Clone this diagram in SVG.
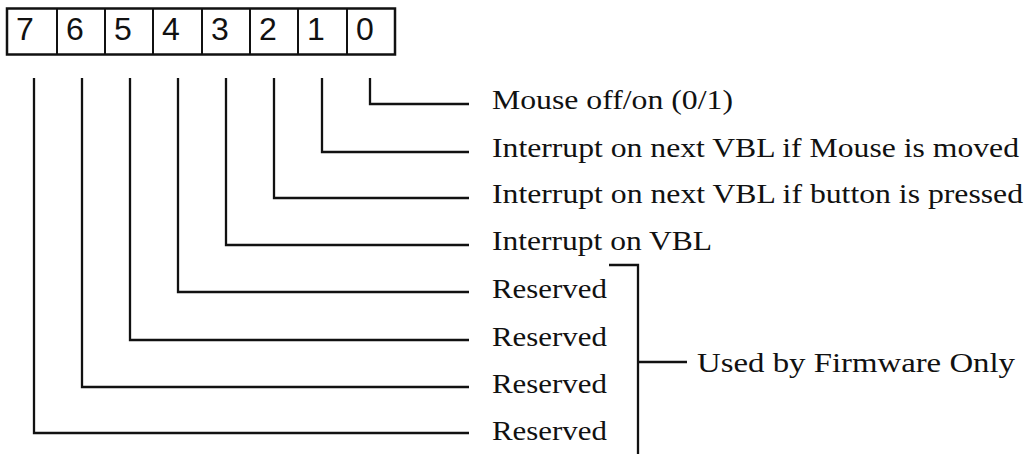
<svg xmlns="http://www.w3.org/2000/svg" width="1027" height="454" viewBox="0 0 1027 454">
<style>
.box{fill:none;stroke:#111;stroke-width:2.5}
.div{stroke:#111;stroke-width:2}
.digit{font-family:"Liberation Sans",Arial,sans-serif;font-size:32px;fill:#111}
.lbl{font-family:"Liberation Serif","Times New Roman",serif;font-size:28px;fill:#111}
.conn{fill:none;stroke:#111;stroke-width:2.3;stroke-linejoin:miter}
</style>
<rect width="1027" height="454" fill="#fff"/>
<g id="register">
<rect class="box" x="7" y="8.5" width="388" height="46"/>
<line class="div" x1="57" y1="8.5" x2="57" y2="54.5"/>
<line class="div" x1="105" y1="8.5" x2="105" y2="54.5"/>
<line class="div" x1="153" y1="8.5" x2="153" y2="54.5"/>
<line class="div" x1="202" y1="8.5" x2="202" y2="54.5"/>
<line class="div" x1="250" y1="8.5" x2="250" y2="54.5"/>
<line class="div" x1="298" y1="8.5" x2="298" y2="54.5"/>
<line class="div" x1="347" y1="8.5" x2="347" y2="54.5"/>
<text class="digit" x="16" y="40">7</text>
<text class="digit" x="66" y="40">6</text>
<text class="digit" x="114" y="40">5</text>
<text class="digit" x="162" y="40">4</text>
<text class="digit" x="211" y="40">3</text>
<text class="digit" x="259" y="40">2</text>
<text class="digit" x="307" y="40">1</text>
<text class="digit" x="356" y="40">0</text>
</g>
<g id="connectors">
<polyline class="conn" points="370,78 370,104 469,104"/>
<polyline class="conn" points="322,78 322,152 469,152"/>
<polyline class="conn" points="274,78 274,198 469,198"/>
<polyline class="conn" points="226,78 226,245 469,245"/>
<polyline class="conn" points="178,78 178,292 469,292"/>
<polyline class="conn" points="130,78 130,340 469,340"/>
<polyline class="conn" points="82,78 82,387 469,387"/>
<polyline class="conn" points="34,78 34,433 469,433"/>
<polyline class="conn" points="609,265 638,265 638,454"/>
<line class="conn" x1="638" y1="362" x2="687" y2="362"/>
</g>
<g id="bit0"><text class="lbl" x="492" y="109" textLength="241" lengthAdjust="spacingAndGlyphs">Mouse off/on (0/1)</text></g>
<g id="bit1"><text class="lbl" x="492" y="157" textLength="527" lengthAdjust="spacingAndGlyphs">Interrupt on next VBL if Mouse is moved</text></g>
<g id="bit2"><text class="lbl" x="492" y="203" textLength="531" lengthAdjust="spacingAndGlyphs">Interrupt on next VBL if button is pressed</text></g>
<g id="bit3"><text class="lbl" x="492" y="250" textLength="220" lengthAdjust="spacingAndGlyphs">Interrupt on VBL</text></g>
<g id="bit4"><text class="lbl" x="492" y="298" textLength="115" lengthAdjust="spacingAndGlyphs">Reserved</text></g>
<g id="bit5"><text class="lbl" x="492" y="346" textLength="115" lengthAdjust="spacingAndGlyphs">Reserved</text></g>
<g id="bit6"><text class="lbl" x="492" y="393" textLength="115" lengthAdjust="spacingAndGlyphs">Reserved</text></g>
<g id="bit7"><text class="lbl" x="492" y="440" textLength="115" lengthAdjust="spacingAndGlyphs">Reserved</text></g>
<g id="firmware"><text class="lbl" x="697" y="372" textLength="318" lengthAdjust="spacingAndGlyphs">Used by Firmware Only</text></g>
</svg>
